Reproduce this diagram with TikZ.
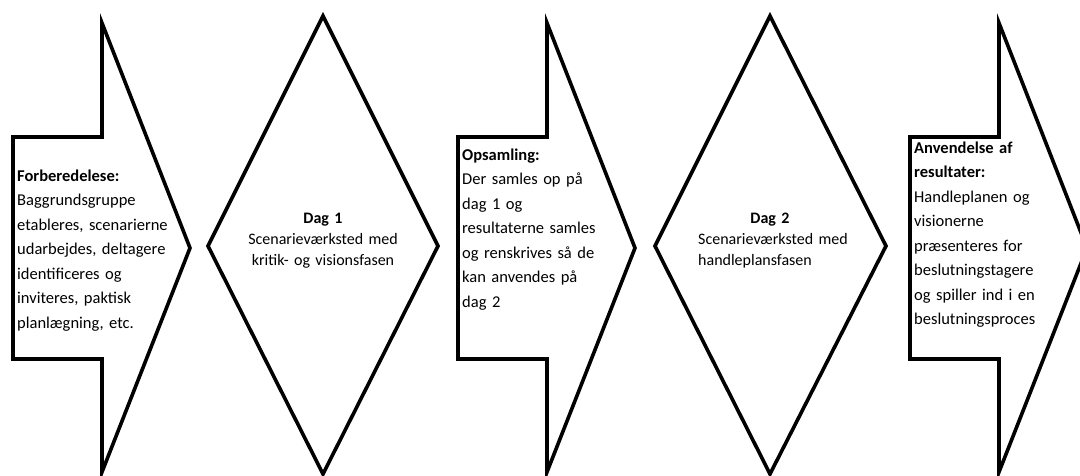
\documentclass[tikz,border=0pt]{standalone}
\usepackage{fontspec}
\setmainfont{Carlito}
\tikzset{
  shapeline/.style={draw=black, line width=3.6pt, fill=white, line join=miter},
  arrowtext/.style={anchor=base west, inner sep=0pt, align=left, text width=#1,
    font=\fontsize{16.5}{24.5}\selectfont},
  diamtext/.style={anchor=base, inner sep=0pt, align=center, text width=200pt,
    font=\fontsize{16}{21}\selectfont}
}
\newcommand\myblockarrow[1]{%
  \begin{scope}[xshift=#1]
    \draw[shapeline] (0,137) -- (89,137) -- (89,23) -- (177,248) -- (89,472)
      -- (89,359) -- (0,359) -- cycle;
  \end{scope}}
\begin{document}
\begin{tikzpicture}[x=1pt,y=-1pt]
\useasboundingbox (0,0) rectangle (1080,475);
\fill[white] (0,0) rectangle (1080,475);
\clip (0,0) rectangle (1080,475);
% arrows
\myblockarrow{13pt}
\myblockarrow{458pt}
\myblockarrow{910pt}
% diamonds
\draw[shapeline] (323,16) -- (438,246) -- (323,474) -- (208,246) -- cycle;
\draw[shapeline] (770,16) -- (886,246) -- (770,474) -- (655,246) -- cycle;
% texts
\node[arrowtext=170pt] (t1) at (17,181) {\textbf{Forberedelese:}\\Baggrundsgruppe\\etableres, scenarierne\\udarbejdes, deltagere\\identificeres og\\inviteres, paktisk\\planlægning, etc.};
\node[arrowtext=170pt] (t2) at (462,160) {\textbf{Opsamling:}\\Der samles op på\\dag 1 og\\resultaterne samles\\og renskrives så de\\kan anvendes på\\dag 2};
\node[arrowtext=170pt] (t3) at (914,153) {\textbf{Anvendelse af}\\\textbf{resultater:}\\Handleplanen og\\visionerne\\præsenteres for\\beslutningstagere\\og spiller ind i en\\beslutningsproces};
\node[diamtext] (d1) at (323,223) {\textbf{Dag 1}\\Scenarieværksted med\\kritik- og visionsfasen};
\node[diamtext] (d2a) at (770,223) {\textbf{Dag 2}};
\node[anchor=base west, inner sep=0pt, align=left, text width=180pt, font=\fontsize{16}{21}\selectfont] (d2) at (698,244) {Scenarieværksted med\\handleplansfasen};
\end{tikzpicture}
\end{document}
